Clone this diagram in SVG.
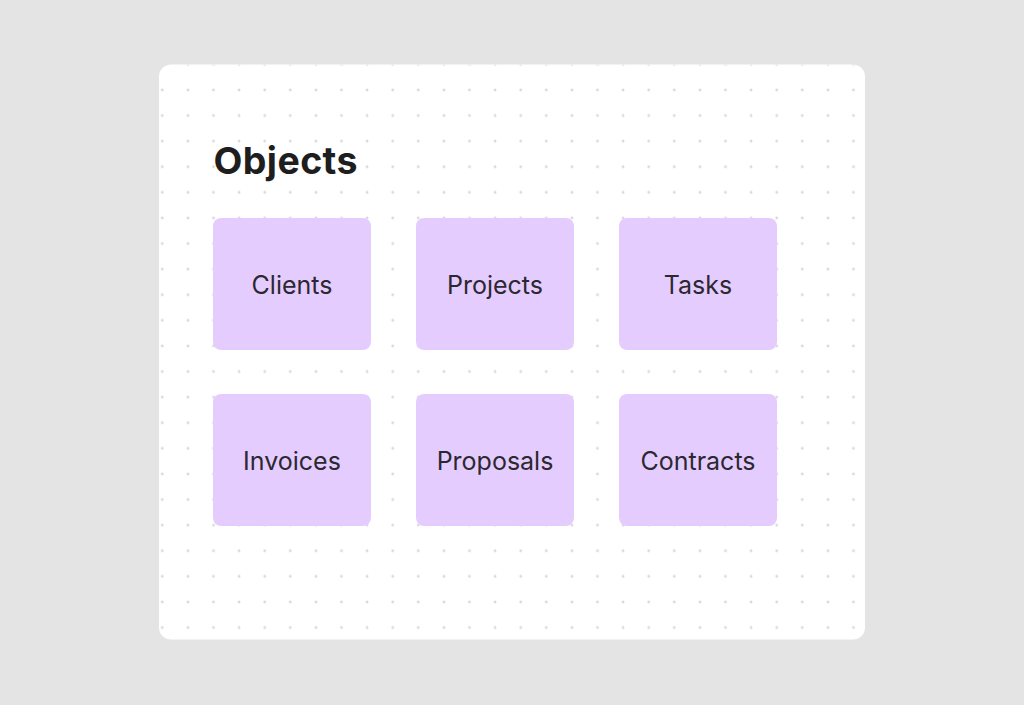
<svg xmlns="http://www.w3.org/2000/svg" width="1024" height="705" viewBox="0 0 1024 705">
<defs>
<style>
.box{fill:#e5ccff}
.lbl{font-family:Inter,"Noto Sans",sans-serif;font-size:25px;fill:#2b2830;text-anchor:middle}
.title{font-family:Inter,"Noto Sans",sans-serif;font-size:37.5px;font-weight:700;fill:#1e1e1e;letter-spacing:0.4px}
</style>
<pattern id="dots" x="149.5" y="51.6" width="25.6" height="25.6" patternUnits="userSpaceOnUse">
<circle cx="12.8" cy="12.8" r="1.4" fill="#d9d9d9"/>
</pattern>
<clipPath id="card"><rect x="159" y="64.5" width="706" height="575" rx="12"/></clipPath>
</defs>
<rect width="1024" height="705" fill="#e4e4e4"/>
<rect x="159" y="64.5" width="706" height="575" rx="12" fill="#ffffff"/>
<rect x="159" y="64.5" width="706" height="575" fill="url(#dots)" clip-path="url(#card)"/>
<g id="title"><text class="title" x="213.5" y="174">Objects</text></g>
<g id="clients"><rect class="box" x="213" y="218" width="158" height="132" rx="8"/><text class="lbl" x="292" y="293.5">Clients</text></g>
<g id="projects"><rect class="box" x="416" y="218" width="158" height="132" rx="8"/><text class="lbl" x="495" y="293.5">Projects</text></g>
<g id="tasks"><rect class="box" x="619" y="218" width="158" height="132" rx="8"/><text class="lbl" x="698" y="293.5">Tasks</text></g>
<g id="invoices"><rect class="box" x="213" y="394" width="158" height="132" rx="8"/><text class="lbl" x="292" y="469.5">Invoices</text></g>
<g id="proposals"><rect class="box" x="416" y="394" width="158" height="132" rx="8"/><text class="lbl" x="495" y="469.5">Proposals</text></g>
<g id="contracts"><rect class="box" x="619" y="394" width="158" height="132" rx="8"/><text class="lbl" x="698" y="469.5">Contracts</text></g>
<g id="connectors"></g>
</svg>
